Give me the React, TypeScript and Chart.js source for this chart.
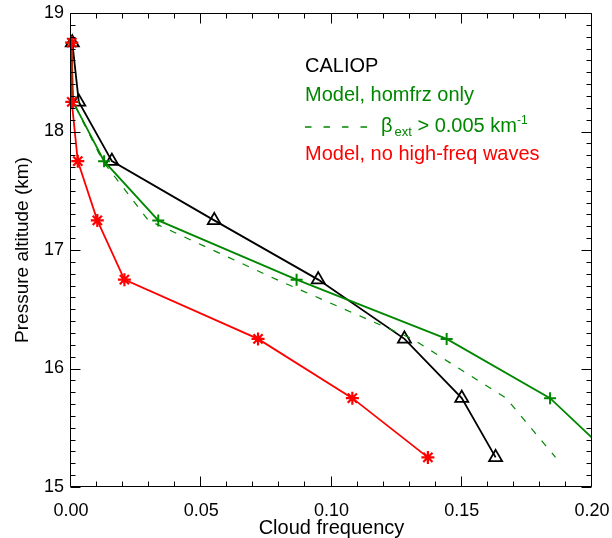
import { useEffect, useRef } from "react";
import { Chart, registerables } from "chart.js";

Chart.register(...registerables);

// ---- Data ----
const altitudes = [18.75, 18.25, 17.75, 17.25, 16.75, 16.25, 15.75, 15.25];
const caliopFreq = [0.0005, 0.003, 0.0157, 0.055, 0.0949, 0.128, 0.150, 0.163];
const homfrzFreq = [0.0002, 0.0008, 0.0127, 0.0335, 0.0866, 0.1442, 0.1839, 0.208];
const betaExtFreq = [0.0002, 0.0008, 0.0122, 0.0297, 0.079, 0.131, 0.167, 0.186];
const noWavesFreq = [0.0003, 0.0003, 0.0026, 0.0101, 0.0205, 0.0718, 0.108, 0.137];

const xMin = 0;
const xMax = 0.2;
const xMajorStep = 0.05;
const xMinorStep = 0.01;
const yMin = 15;
const yMax = 19;
const yMajorStep = 1;
const yMinorStep = 0.1;

const xTitle = "Cloud frequency";
const yTitle = "Pressure altitude (km)";
const legendLabels = ["CALIOP", "Model, homfrz only", "ext", " > 0.005 km", "-1", "Model, no high-freq waves"];

const GREEN = "rgb(0,135,0)";
const RED = "rgb(255,0,0)";
const BLACK = "#000000";
const FONT = "'Liberation Sans', Arial, Helvetica, sans-serif";

const toPoints = (xs: number[]) => xs.map((x, i) => ({ x, y: altitudes[i] }));

const framePlugin = {
  id: "idlFrame",
  afterDraw(chart: any) {
    const { ctx, chartArea: a, scales } = chart;
    const xs = scales.x;
    const ys = scales.y;
    const L = Math.round(a.left) - 0.5;
    const R = Math.round(a.right) - 0.5;
    const T = Math.round(a.top) + 0.5;
    const B = Math.round(a.bottom) - 0.5;
    ctx.save();
    ctx.strokeStyle = "#000";
    ctx.lineWidth = 1;
    ctx.beginPath();
    ctx.rect(L, T, R - L, B - T);
    const nx = Math.round((xMax - xMin) / xMinorStep);
    const perMajX = Math.round(xMajorStep / xMinorStep);
    for (let i = 0; i <= nx; i++) {
      const px = Math.round(xs.getPixelForValue(xMin + i * xMinorStep)) - 0.5;
      const len = i % perMajX === 0 ? 10 : 5;
      ctx.moveTo(px, B);
      ctx.lineTo(px, B - len);
      ctx.moveTo(px, T);
      ctx.lineTo(px, T + len);
    }
    const ny = Math.round((yMax - yMin) / yMinorStep);
    const perMajY = Math.round(yMajorStep / yMinorStep);
    for (let i = 0; i <= ny; i++) {
      const py = Math.round(ys.getPixelForValue(yMin + i * yMinorStep)) + 0.5;
      const len = i % perMajY === 0 ? 10 : 5;
      ctx.moveTo(L, py);
      ctx.lineTo(L + len, py);
      ctx.moveTo(R, py);
      ctx.lineTo(R - len, py);
    }
    ctx.stroke();
    ctx.restore();
  },
};

const legendPlugin = {
  id: "textLegend",
  afterDraw(chart: any) {
    const ctx = chart.ctx;
    const x0 = 305;
    ctx.save();
    ctx.textAlign = "left";
    ctx.textBaseline = "alphabetic";
    ctx.font = `20px ${FONT}`;
    ctx.fillStyle = BLACK;
    ctx.fillText(legendLabels[0], x0, 72);
    ctx.fillStyle = GREEN;
    ctx.fillText(legendLabels[1], x0, 101);

    // dashed sample
    ctx.strokeStyle = GREEN;
    ctx.lineWidth = 1.3;
    ctx.beginPath();
    for (let i = 0; i < 4; i++) {
      const sx = x0 + i * 18.5;
      ctx.moveTo(sx, 127);
      ctx.lineTo(sx + 6.5, 127);
    }
    ctx.stroke();

    let x = 381;
    const base = 131.5;
    ctx.fillStyle = GREEN;
    ctx.font = `20px ${FONT}`;
    ctx.fillText("β", x, base);
    x += ctx.measureText("β").width + 2;
    ctx.font = `13px ${FONT}`;
    ctx.fillText(legendLabels[2], x, base + 4);
    x += ctx.measureText(legendLabels[2]).width;
    ctx.font = `20px ${FONT}`;
    ctx.fillText(legendLabels[3], x, base);
    x += ctx.measureText(legendLabels[3]).width;
    ctx.font = `12px ${FONT}`;
    ctx.fillText(legendLabels[4], x, base - 8);

    ctx.font = `20px ${FONT}`;
    ctx.fillStyle = RED;
    ctx.fillText(legendLabels[5], x0, 160);
    ctx.restore();
  },
};

export default function App() {
  const canvasRef = useRef<HTMLCanvasElement | null>(null);

  useEffect(() => {
    if (!canvasRef.current) return;
    const clip = { left: 12, right: 0, top: 12, bottom: 12 };
    const chart = new Chart(canvasRef.current, {
      type: "scatter",
      data: {
        datasets: [
          {
            label: "Model, no high-freq waves",
            data: toPoints(noWavesFreq),
            showLine: true,
            borderColor: RED,
            backgroundColor: RED,
            borderWidth: 1.8,
            pointStyle: "star",
            pointRadius: 6.5,
            pointBorderWidth: 2.2,
            clip,
            order: 0,
          } as any,
          {
            label: "Model, homfrz only",
            data: toPoints(homfrzFreq),
            showLine: true,
            borderColor: GREEN,
            backgroundColor: GREEN,
            borderWidth: 1.8,
            pointStyle: "cross",
            pointRadius: 6,
            pointBorderWidth: 2,
            clip,
            order: 1,
          } as any,
          {
            label: "beta_ext > 0.005 km-1",
            data: toPoints(betaExtFreq),
            showLine: true,
            borderColor: GREEN,
            backgroundColor: GREEN,
            borderWidth: 1.2,
            borderDash: [7, 9],
            pointRadius: 0,
            clip,
            order: 2,
          } as any,
          {
            label: "CALIOP",
            data: toPoints(caliopFreq),
            showLine: true,
            borderColor: BLACK,
            backgroundColor: "rgba(0,0,0,0)",
            borderWidth: 1.8,
            pointStyle: "triangle",
            pointRadius: 7.5,
            pointBorderWidth: 1.8,
            clip,
            order: 3,
          } as any,
        ],
      },
      options: {
        animation: false,
        responsive: false,
        devicePixelRatio: 1,
        layout: { padding: { left: 0, top: 13, right: 20, bottom: 0 } },
        plugins: {
          legend: { display: false },
          tooltip: { enabled: false },
        },
        scales: {
          x: {
            type: "linear",
            min: xMin,
            max: xMax,
            border: { display: false },
            grid: { display: false, drawTicks: false },
            ticks: {
              stepSize: xMajorStep,
              padding: 13,
              color: "#000",
              font: { family: FONT, size: 18 },
              maxRotation: 0,
              autoSkip: false,
              callback: (v: any) => Number(v).toFixed(2),
            },
            title: {
              display: true,
              text: xTitle,
              color: "#000",
              font: { family: FONT, size: 20 },
              padding: { top: 0, bottom: -2 },
            },
            afterFit: (s: any) => {
              s.height = 51;
              s.paddingLeft = 0;
              s.paddingRight = 0;
            },
          },
          y: {
            type: "linear",
            min: yMin,
            max: yMax,
            border: { display: false },
            grid: { display: false, drawTicks: false },
            ticks: {
              stepSize: yMajorStep,
              padding: 7,
              color: "#000",
              font: { family: FONT, size: 18 },
              autoSkip: false,
              callback: (v: any) => String(v),
            },
            title: {
              display: true,
              text: yTitle,
              color: "#000",
              font: { family: FONT, size: 19 },
              padding: { top: 11, bottom: 0 },
            },
            afterFit: (s: any) => {
              s.width = 71;
              s.paddingTop = 0;
              s.paddingBottom = 0;
            },
          },
        },
      } as any,
      plugins: [framePlugin, legendPlugin],
    });
    return () => chart.destroy();
  }, []);

  return (
    <div style={{ position: "absolute", left: 0, top: 0, width: 612, height: 538, background: "#fff" }}>
      <canvas ref={canvasRef} width={612} height={538} style={{ display: "block" }} />
    </div>
  );
}
